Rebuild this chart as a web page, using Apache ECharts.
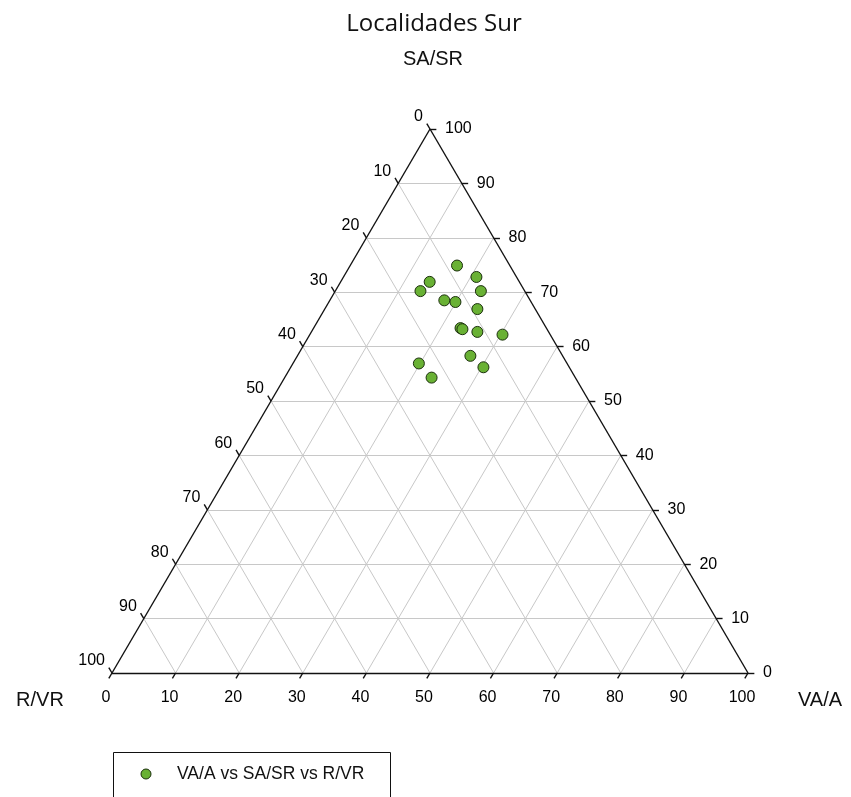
<!DOCTYPE html>
<html>
<head>
<meta charset="utf-8">
<title>Localidades Sur</title>
<script src="https://cdn.jsdelivr.net/npm/echarts@6/dist/echarts.min.js"></script>
<style>
  html, body { margin: 0; padding: 0; background: #ffffff; }
  #chart { width: 851px; height: 797px; }
</style>
</head>
<body>
<div id="chart"></div>
<script>
// Ternary composition of each locality (percent)
const vaA  = [16.8, 20.9, 14.0, 13.4, 22.9, 18.0, 19.9, 24.0, 23.1, 23.5, 26.1, 30.3, 27.2, 19.8, 30.3, 23.1];
const saSR = [74.9, 72.8, 71.9, 70.2, 70.2, 68.5, 68.2, 66.9, 63.4, 63.2, 62.7, 62.2, 58.3, 56.9, 56.2, 54.3];
const rVR  = [ 8.3,  6.3, 14.1, 16.4,  6.9, 13.5, 11.9,  9.1, 13.5, 13.3, 11.2,  7.5, 14.5, 23.3, 13.5, 22.6];

const tickValues = [0, 10, 20, 30, 40, 50, 60, 70, 80, 90, 100];
const gridValues = [10, 20, 30, 40, 50, 60, 70, 80, 90];

const seriesName = 'VA/A vs SA/SR vs R/VR';
const axisFont = '"Liberation Sans", Arial, sans-serif';
const markerFill = '#69b134';
const markerEdge = '#1c300e';

// Ternary (VA/A, SA/SR) -> plane coordinates: VA/A runs along the base, SA/SR is the height
function toXY(va, sa) {
  return [va + sa / 2, sa];
}

// Interior grid: one family of lines per component
const gridSegments = [];
gridValues.forEach(function (k) {
  // constant SA/SR (horizontal)
  gridSegments.push({ coords: [toXY(0, k), toXY(100 - k, k)] });
  // constant VA/A (parallel to left edge)
  gridSegments.push({ coords: [toXY(k, 0), toXY(k, 100 - k)] });
  // constant R/VR (parallel to right edge)
  gridSegments.push({ coords: [toXY(100 - k, 0), toXY(0, 100 - k)] });
});

// Triangle outline
const edgeSegments = [
  { coords: [toXY(0, 0), toXY(100, 0)] },
  { coords: [toXY(100, 0), toXY(0, 100)] },
  { coords: [toXY(0, 100), toXY(0, 0)] }
];

// Tick marks: each grid line extended one unit beyond its edge
const tickSegments = [];
const bottomLabels = [];
const leftLabels = [];
const rightLabels = [];
tickValues.forEach(function (k) {
  // VA/A along the base
  tickSegments.push({ coords: [toXY(k, 0), toXY(k, -1)] });
  bottomLabels.push(toXY(k, 0).concat([String(k)]));
  // R/VR along the left edge (0 at apex, 100 at bottom-left)
  tickSegments.push({ coords: [toXY(0, 100 - k), toXY(-1, 101 - k)] });
  leftLabels.push(toXY(0, 100 - k).concat([String(k)]));
  // SA/SR along the right edge (100 at apex, 0 at bottom-right)
  tickSegments.push({ coords: [toXY(100 - k, k), toXY(101 - k, k)] });
  rightLabels.push(toXY(100 - k, k).concat([String(k)]));
});

const pointData = vaA.map(function (va, i) {
  return toXY(va, saSR[i]).concat([va, saSR[i], rVR[i]]);
});

function labelSeries(data, position, align, z) {
  return {
    type: 'scatter',
    data: data,
    symbolSize: 0,
    silent: true,
    clip: false,
    z: z,
    label: {
      show: true,
      position: position,
      align: align,
      verticalAlign: 'middle',
      formatter: function (p) { return p.value[2]; },
      color: '#000000',
      opacity: 1,
      textBorderWidth: 0,
      fontFamily: axisFont,
      fontSize: 16
    },
    emphasis: { disabled: true }
  };
}

const chart = echarts.init(document.getElementById('chart'));
chart.setOption({
  animation: false,
  backgroundColor: '#ffffff',
  title: {
    text: 'Localidades Sur',
    left: 434,
    top: 12,
    padding: 0,
    textAlign: 'center',
    textStyle: {
      fontFamily: '"Open Sans", "Noto Sans", sans-serif',
      fontWeight: 'normal',
      fontSize: 24,
      color: '#111111'
    }
  },
  grid: { left: 112, right: 103, top: 129, bottom: 124 },
  xAxis: { type: 'value', min: 0, max: 100, show: false },
  yAxis: { type: 'value', min: 0, max: 100, show: false },
  series: [
    {
      type: 'lines',
      coordinateSystem: 'cartesian2d',
      data: gridSegments,
      silent: true,
      clip: false,
      z: 1,
      lineStyle: { color: '#c8c8c8', width: 1, opacity: 1 }
    },
    {
      type: 'lines',
      coordinateSystem: 'cartesian2d',
      data: edgeSegments.concat(tickSegments),
      silent: true,
      clip: false,
      z: 2,
      lineStyle: { color: '#111111', width: 1.4, opacity: 1 }
    },
    labelSeries(bottomLabels, [-6, 25], 'center', 3),
    labelSeries(leftLabels, [-7, -12], 'right', 3),
    labelSeries(rightLabels, [15, 0], 'left', 3),
    {
      name: seriesName,
      type: 'scatter',
      data: pointData,
      symbol: 'circle',
      symbolSize: 11,
      clip: false,
      z: 5,
      itemStyle: { color: markerFill, borderColor: markerEdge, borderWidth: 1, opacity: 1 }
    }
  ],
  graphic: [
    {
      type: 'text', x: 433, y: 59, z: 10,
      style: { text: 'SA/SR', font: '20px ' + axisFont, fill: '#111111', align: 'center', verticalAlign: 'middle' }
    },
    {
      type: 'text', x: 40, y: 700, z: 10,
      style: { text: 'R/VR', font: '20px ' + axisFont, fill: '#111111', align: 'center', verticalAlign: 'middle' }
    },
    {
      type: 'text', x: 820, y: 700, z: 10,
      style: { text: 'VA/A', font: '20px ' + axisFont, fill: '#111111', align: 'center', verticalAlign: 'middle' }
    },
    {
      type: 'rect', z: 10,
      shape: { x: 113.5, y: 752.5, width: 277, height: 60 },
      style: { fill: '#ffffff', stroke: '#111111', lineWidth: 1 }
    },
    {
      type: 'circle', z: 11,
      shape: { cx: 146, cy: 774, r: 5 },
      style: { fill: markerFill, stroke: markerEdge, lineWidth: 1 }
    },
    {
      type: 'text', x: 177, y: 774, z: 11,
      style: { text: seriesName, font: '17.5px ' + axisFont, fill: '#111111', align: 'left', verticalAlign: 'middle' }
    }
  ]
});
</script>
</body>
</html>
